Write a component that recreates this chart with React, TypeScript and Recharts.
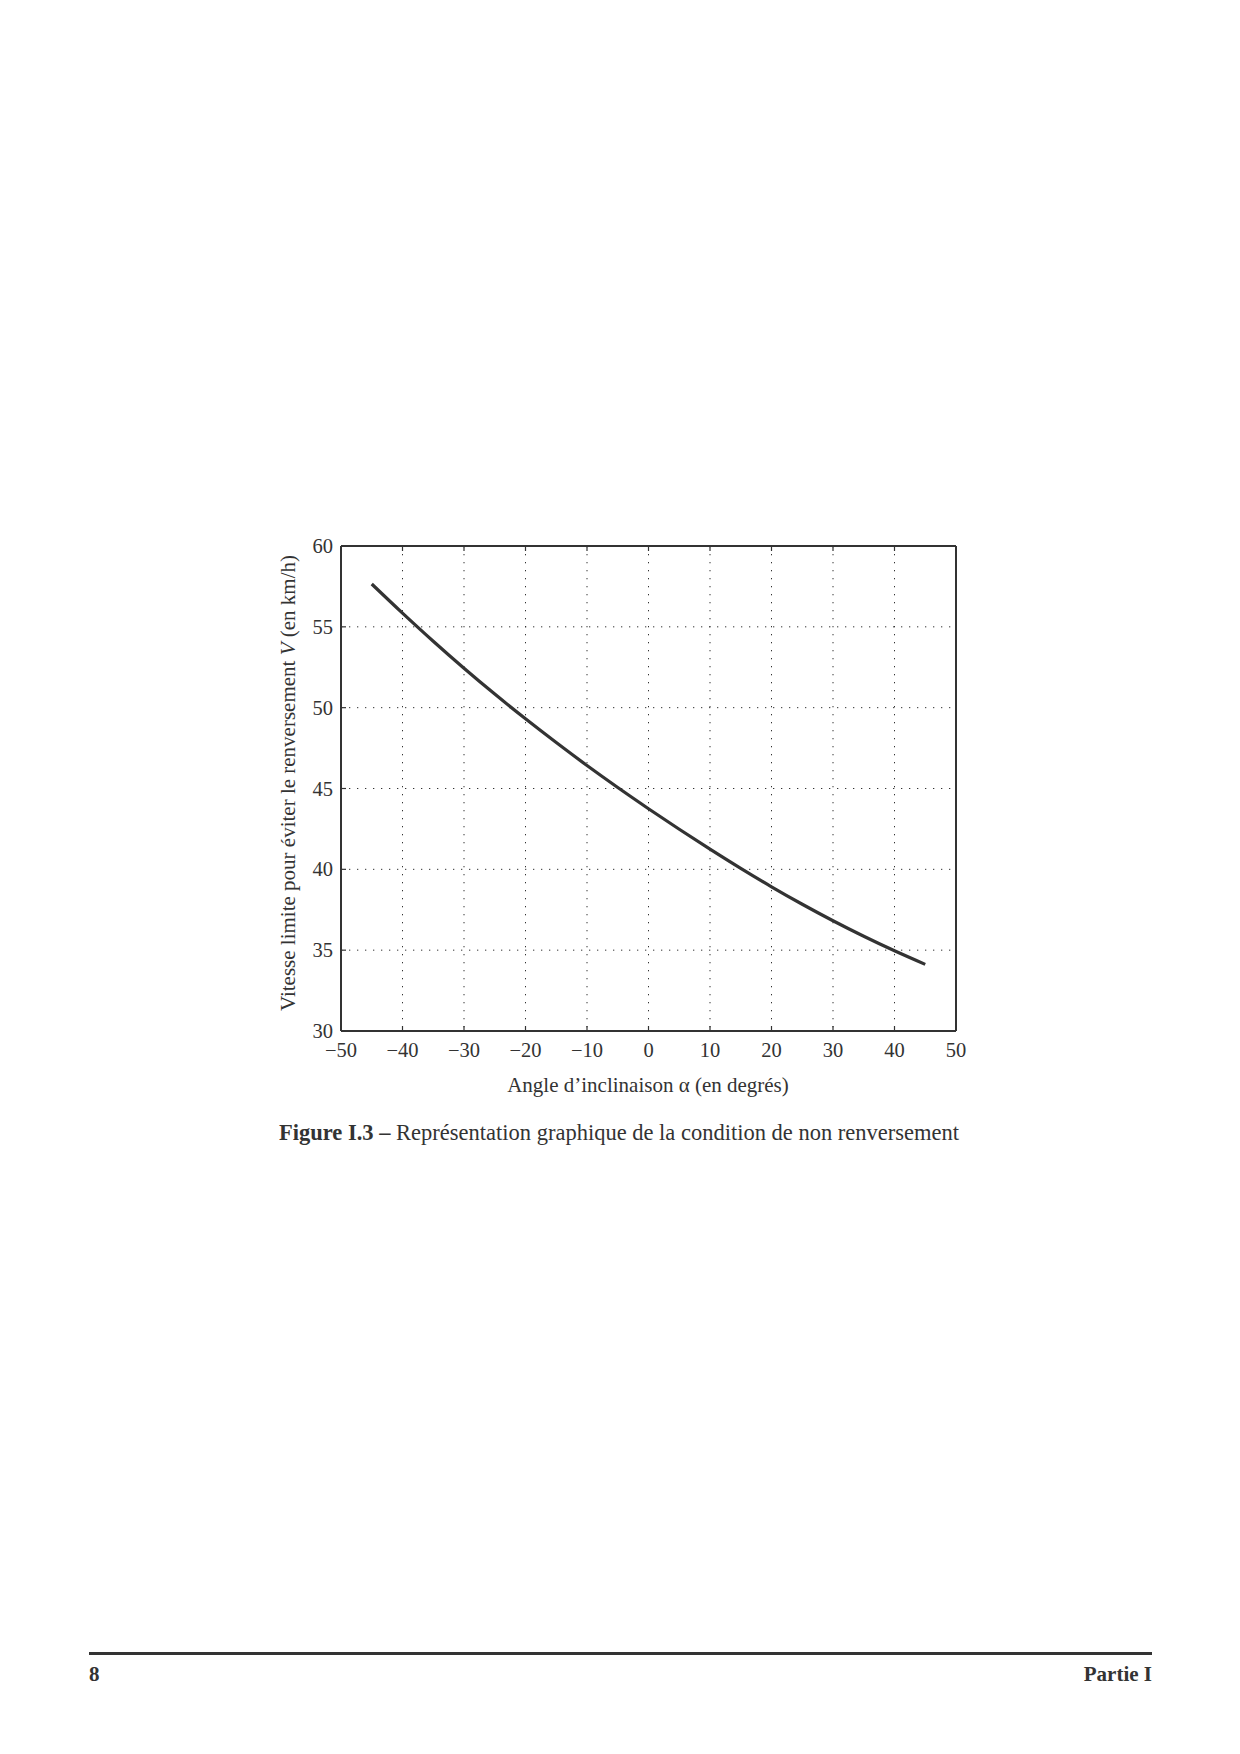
import { LineChart, Line, XAxis, YAxis, CartesianGrid } from 'recharts';

// angle d'inclinaison (degrés) et vitesse limite (km/h)
const angles = [-45, -40, -35, -30, -25, -20, -15, -10, -5, 0, 5, 10, 15, 20, 25, 30, 35, 40, 45];
const speeds = [57.65, 55.85, 54.11, 52.44, 50.84, 49.31, 47.84, 46.42, 45.06, 43.75, 42.48, 41.25, 40.06, 38.92, 37.84, 36.82, 35.86, 34.96, 34.12];

const xTicks = [-50, -40, -30, -20, -10, 0, 10, 20, 30, 40, 50];
const yTicks = [30, 35, 40, 45, 50, 55, 60];

const data = angles.map((a, i) => ({ angle: a, speed: speeds[i] }));

const ink = '#333';
const serif = '"Liberation Serif", "Times New Roman", serif';

const fmt = (v: number) => String(v).replace('-', '\u2212');

const BottomTick = (props: any) => {
  const { x, y, payload } = props;
  return (
    <g>
      <line x1={x} y1={y} x2={x} y2={y - 5} stroke={ink} strokeWidth={1.2} />
      <text x={x} y={y + 26} textAnchor="middle" fontSize={20.5} fill={ink} fontFamily={serif}>
        {fmt(payload.value)}
      </text>
    </g>
  );
};

const LeftTick = (props: any) => {
  const { x, y, payload } = props;
  return (
    <g>
      <line x1={x} y1={y} x2={x + 5} y2={y} stroke={ink} strokeWidth={1.2} />
      <text x={x - 8} y={y + 7} textAnchor="end" fontSize={20.5} fill={ink} fontFamily={serif}>
        {payload.value}
      </text>
    </g>
  );
};

const TopTick = (props: any) => (
  <line x1={props.x} y1={props.y} x2={props.x} y2={props.y + 5} stroke={ink} strokeWidth={1.2} />
);

const RightTick = (props: any) => (
  <line x1={props.x} y1={props.y} x2={props.x - 5} y2={props.y} stroke={ink} strokeWidth={1.2} />
);

export default function App() {
  return (
    <div style={{ position: 'absolute', left: 0, top: 0, width: 1240, height: 1754, background: '#fff', fontFamily: serif, color: ink }}>
      <div style={{ position: 'absolute', left: 241, top: 480 }}>
        <LineChart width={800} height={620} data={data} margin={{ top: 36, right: 25, left: 40, bottom: 29 }}>
          <CartesianGrid stroke={ink} strokeWidth={1} strokeDasharray="1.3 6.7" />
          <XAxis
            dataKey="angle"
            type="number"
            domain={[-50, 50]}
            ticks={xTicks}
            height={40}
            tickSize={0}
            tickMargin={0}
            tickLine={false}
            axisLine={{ stroke: ink, strokeWidth: 2 }}
            tick={<BottomTick />}
            interval={0}
          />
          <XAxis
            xAxisId="top"
            orientation="top"
            dataKey="angle"
            type="number"
            domain={[-50, 50]}
            ticks={xTicks}
            height={30}
            tickSize={0}
            tickMargin={0}
            tickLine={false}
            axisLine={{ stroke: ink, strokeWidth: 2 }}
            tick={<TopTick />}
            interval={0}
          />
          <YAxis
            type="number"
            domain={[30, 60]}
            ticks={yTicks}
            width={60}
            tickSize={0}
            tickMargin={0}
            tickLine={false}
            axisLine={{ stroke: ink, strokeWidth: 2 }}
            tick={<LeftTick />}
            interval={0}
          />
          <YAxis
            yAxisId="right"
            orientation="right"
            type="number"
            domain={[30, 60]}
            ticks={yTicks}
            width={60}
            tickSize={0}
            tickMargin={0}
            tickLine={false}
            axisLine={{ stroke: ink, strokeWidth: 2 }}
            tick={<RightTick />}
            interval={0}
          />
          <Line
            type="monotone"
            dataKey="speed"
            stroke={ink}
            strokeWidth={3.2}
            dot={false}
            isAnimationActive={false}
          />
        </LineChart>
      </div>

      {/* titre de l'axe y */}
      <div
        style={{
          position: 'absolute',
          left: 288,
          top: 783,
          transform: 'translate(-50%, -50%) rotate(-90deg)',
          whiteSpace: 'nowrap',
          fontSize: 21,
        }}
      >
        Vitesse limite pour éviter le renversement <i>V</i> (en km/h)
      </div>

      {/* titre de l'axe x */}
      <div
        style={{
          position: 'absolute',
          left: 648,
          top: 1085,
          transform: 'translate(-50%, -50%)',
          whiteSpace: 'nowrap',
          fontSize: 21,
        }}
      >
        Angle d’inclinaison α (en degrés)
      </div>

      <div
        style={{
          position: 'absolute',
          left: 619,
          top: 1133,
          transform: 'translate(-50%, -50%)',
          whiteSpace: 'nowrap',
          fontSize: 22.5,
        }}
      >
        <b>Figure I.3 –</b> Représentation graphique de la condition de non renversement
      </div>

      <div style={{ position: 'absolute', left: 89, top: 1652, width: 1063, height: 3, background: ink }} />
      <div style={{ position: 'absolute', left: 89, top: 1662, fontSize: 21, fontWeight: 'bold' }}>8</div>
      <div style={{ position: 'absolute', right: 1240 - 1152, top: 1662, fontSize: 21, fontWeight: 'bold' }}>Partie I</div>
    </div>
  );
}
